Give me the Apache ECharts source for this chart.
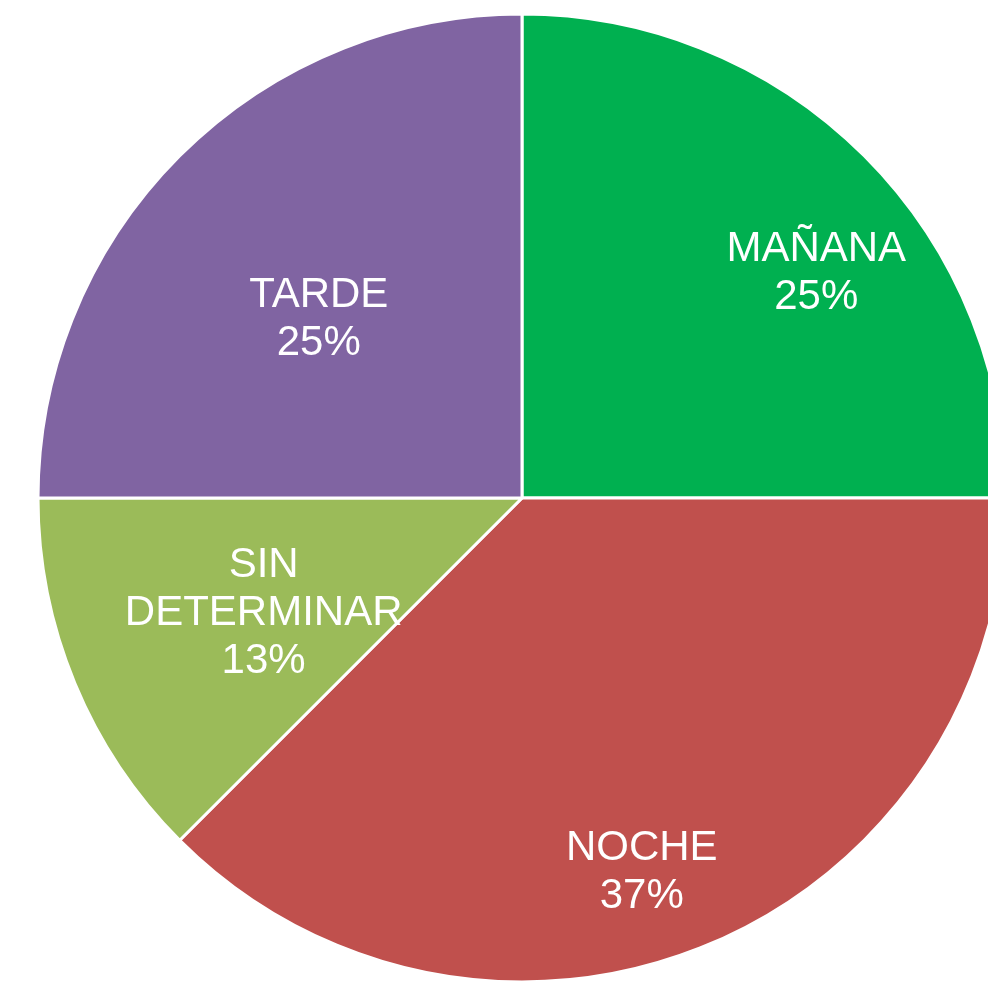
<!DOCTYPE html>
<html>
<head>
<meta charset="utf-8">
<script src="https://cdn.jsdelivr.net/npm/echarts@6/dist/echarts.min.js"></script>
<style>
html, body { margin: 0; padding: 0; background: #fff; }
#chart { width: 988px; height: 990px; }
</style>
</head>
<body>
<div id="chart"></div>
<script>
// data
var categories = ['MAÑANA', 'NOCHE', 'SIN DETERMINAR', 'TARDE'];
var values = [25, 37.5, 12.5, 25];
var percentLabels = ['25%', '37%', '13%', '25%'];
var labelNames = ['MAÑANA', 'NOCHE', 'SIN\nDETERMINAR', 'TARDE'];

var colors = ['#00B050', '#C0504D', '#9BBB59', '#8064A2'];
// nudge labels to where excel put them
var labelOffsets = [[121, -51], [26, 148], [-32, 22], [-30, -5]];

var myChart = echarts.init(document.getElementById('chart'));

var seriesData = [];
for (var i = 0; i < categories.length; i++) {
    seriesData.push({
        name: categories[i],
        value: values[i],
        itemStyle: { color: colors[i] },
        label: { offset: labelOffsets[i] }
    });
}

var option = {
    animation: false,
    backgroundColor: '#ffffff',
    series: [
        {
            type: 'pie',
            center: [522, 498],
            radius: 484,
            startAngle: 90,
            clockwise: true,
            data: seriesData,
            itemStyle: {
                borderColor: '#ffffff',
                borderWidth: 3
            },
            label: {
                show: true,
                position: 'inside',
                color: '#ffffff',
                fontFamily: 'Liberation Sans, Arial, sans-serif',
                fontSize: 42,
                lineHeight: 48,
                align: 'center',
                formatter: function (params) {
                    return labelNames[params.dataIndex] + '\n' + percentLabels[params.dataIndex];
                }
            },
            labelLine: { show: false },
            emphasis: { disabled: true }
        }
    ]
};
myChart.setOption(option);
</script>
</body>
</html>
